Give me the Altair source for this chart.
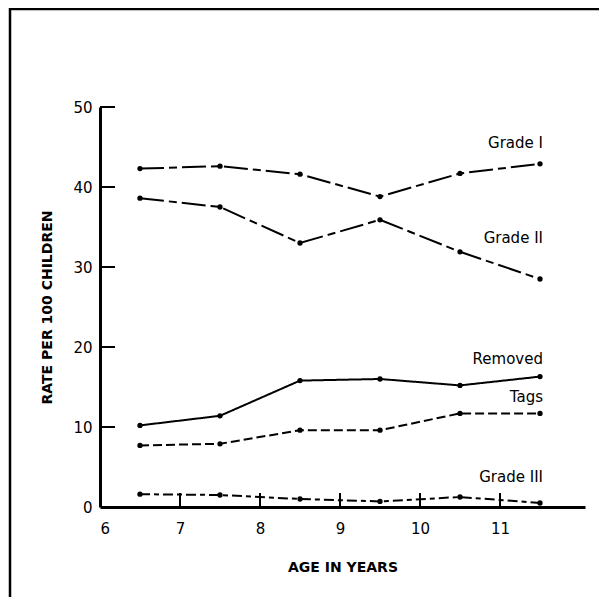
import altair as alt
import pandas as pd

ages = [6.5, 7.5, 8.5, 9.5, 10.5, 11.5]
grade_1 = [42.3, 42.6, 41.6, 38.8, 41.7, 42.9]
grade_2 = [38.6, 37.5, 33.0, 35.9, 31.9, 28.5]
removed = [10.2, 11.4, 15.8, 16.0, 15.2, 16.3]
tags = [7.7, 7.9, 9.6, 9.6, 11.7, 11.7]
grade_3 = [1.6, 1.5, 1.0, 0.7, 1.25, 0.5]

series_names = ["Grade I", "Grade II", "Removed", "Tags", "Grade III"]
series_values = [grade_1, grade_2, removed, tags, grade_3]

x_ticks = [7, 8, 9, 10, 11]
y_ticks = [10, 20, 30, 40, 50]
x_labels = [6, 7, 8, 9, 10, 11]
y_labels = [0, 10, 20, 30, 40, 50]

FONT = "DejaVu Sans"

dash_styles = {
    "Grade I": [24, 5, 8, 5],
    "Grade II": [24, 5, 8, 5],
    "Removed": [1, 0],
    "Tags": [9, 4],
    "Grade III": [10, 4, 5, 4],
}
label_dy = {
    "Grade I": -21,
    "Grade II": -41,
    "Removed": -18,
    "Tags": -16,
    "Grade III": -26,
}

xscale = alt.Scale(domain=[6, 12.0625], nice=False, zero=False)
yscale = alt.Scale(domain=[0, 50], nice=False)

x_axis = alt.Axis(values=x_labels, format="d", ticks=False, grid=False,
                  domainWidth=3, domainColor="black", labelFont=FONT,
                  labelFontSize=15, labelColor="black", labelPadding=14,
                  title="AGE IN YEARS", titleFont=FONT, titleFontSize=14,
                  titleFontWeight="bold", titleColor="black", titlePadding=24)
y_axis = alt.Axis(values=y_labels, format="d", ticks=False, grid=False,
                  domainWidth=3, domainColor="black", labelFont=FONT,
                  labelFontSize=15, labelColor="black", labelPadding=8,
                  title="RATE PER 100 CHILDREN", titleFont=FONT, titleFontSize=14,
                  titleFontWeight="bold", titleColor="black", titlePadding=18)

layers = []

base_df = pd.DataFrame({"age": [6, 12.0625], "rate": [0, 50]})
layers.append(
    alt.Chart(base_df).mark_point(opacity=0).encode(
        x=alt.X("age:Q", scale=xscale, axis=x_axis),
        y=alt.Y("rate:Q", scale=yscale, axis=y_axis),
    )
)

ytick_df = pd.DataFrame({"rate": y_ticks})
layers.append(
    alt.Chart(ytick_df).mark_rule(color="black", strokeWidth=2).encode(
        y=alt.Y("rate:Q", scale=yscale), x=alt.value(0), x2=alt.value(15)
    )
)
xtick_df = pd.DataFrame({"age": x_ticks})
layers.append(
    alt.Chart(xtick_df).mark_rule(color="black", strokeWidth=2).encode(
        x=alt.X("age:Q", scale=xscale), y=alt.value(400), y2=alt.value(386)
    )
)

for name, vals in zip(series_names, series_values):
    df = pd.DataFrame({"age": ages, "rate": vals})
    layers.append(
        alt.Chart(df).mark_line(color="black", strokeWidth=2,
                                strokeDash=dash_styles[name]).encode(
            x=alt.X("age:Q", scale=xscale), y=alt.Y("rate:Q", scale=yscale)
        )
    )
    layers.append(
        alt.Chart(df).mark_circle(color="black", opacity=1, size=28).encode(
            x=alt.X("age:Q", scale=xscale), y=alt.Y("rate:Q", scale=yscale)
        )
    )
    lab_df = pd.DataFrame({"age": [ages[-1]], "rate": [vals[-1]], "label": [name]})
    layers.append(
        alt.Chart(lab_df).mark_text(align="right", baseline="middle", dx=3,
                                    dy=label_dy[name], font=FONT, fontSize=15,
                                    color="black").encode(
            x=alt.X("age:Q", scale=xscale), y=alt.Y("rate:Q", scale=yscale),
            text="label:N"
        )
    )

# figure frame: only its top and left edges fall inside the canvas
frame_df = pd.DataFrame({"k": [0]})
layers.append(
    alt.Chart(frame_df).mark_rect(fill="white", fillOpacity=0, stroke="black",
                                  strokeWidth=2.5).encode(
        x=alt.value(-90), x2=alt.value(620), y=alt.value(-98), y2=alt.value(620)
    )
)

chart = alt.layer(*layers).properties(
    width=485, height=400,
    autosize=alt.AutoSizeParams(type="none"),
    padding={"left": 92, "top": 99, "right": 14, "bottom": 90},
).configure_view(stroke=None)

chart.save("out.html", embed_options={"renderer": "svg", "actions": False})
